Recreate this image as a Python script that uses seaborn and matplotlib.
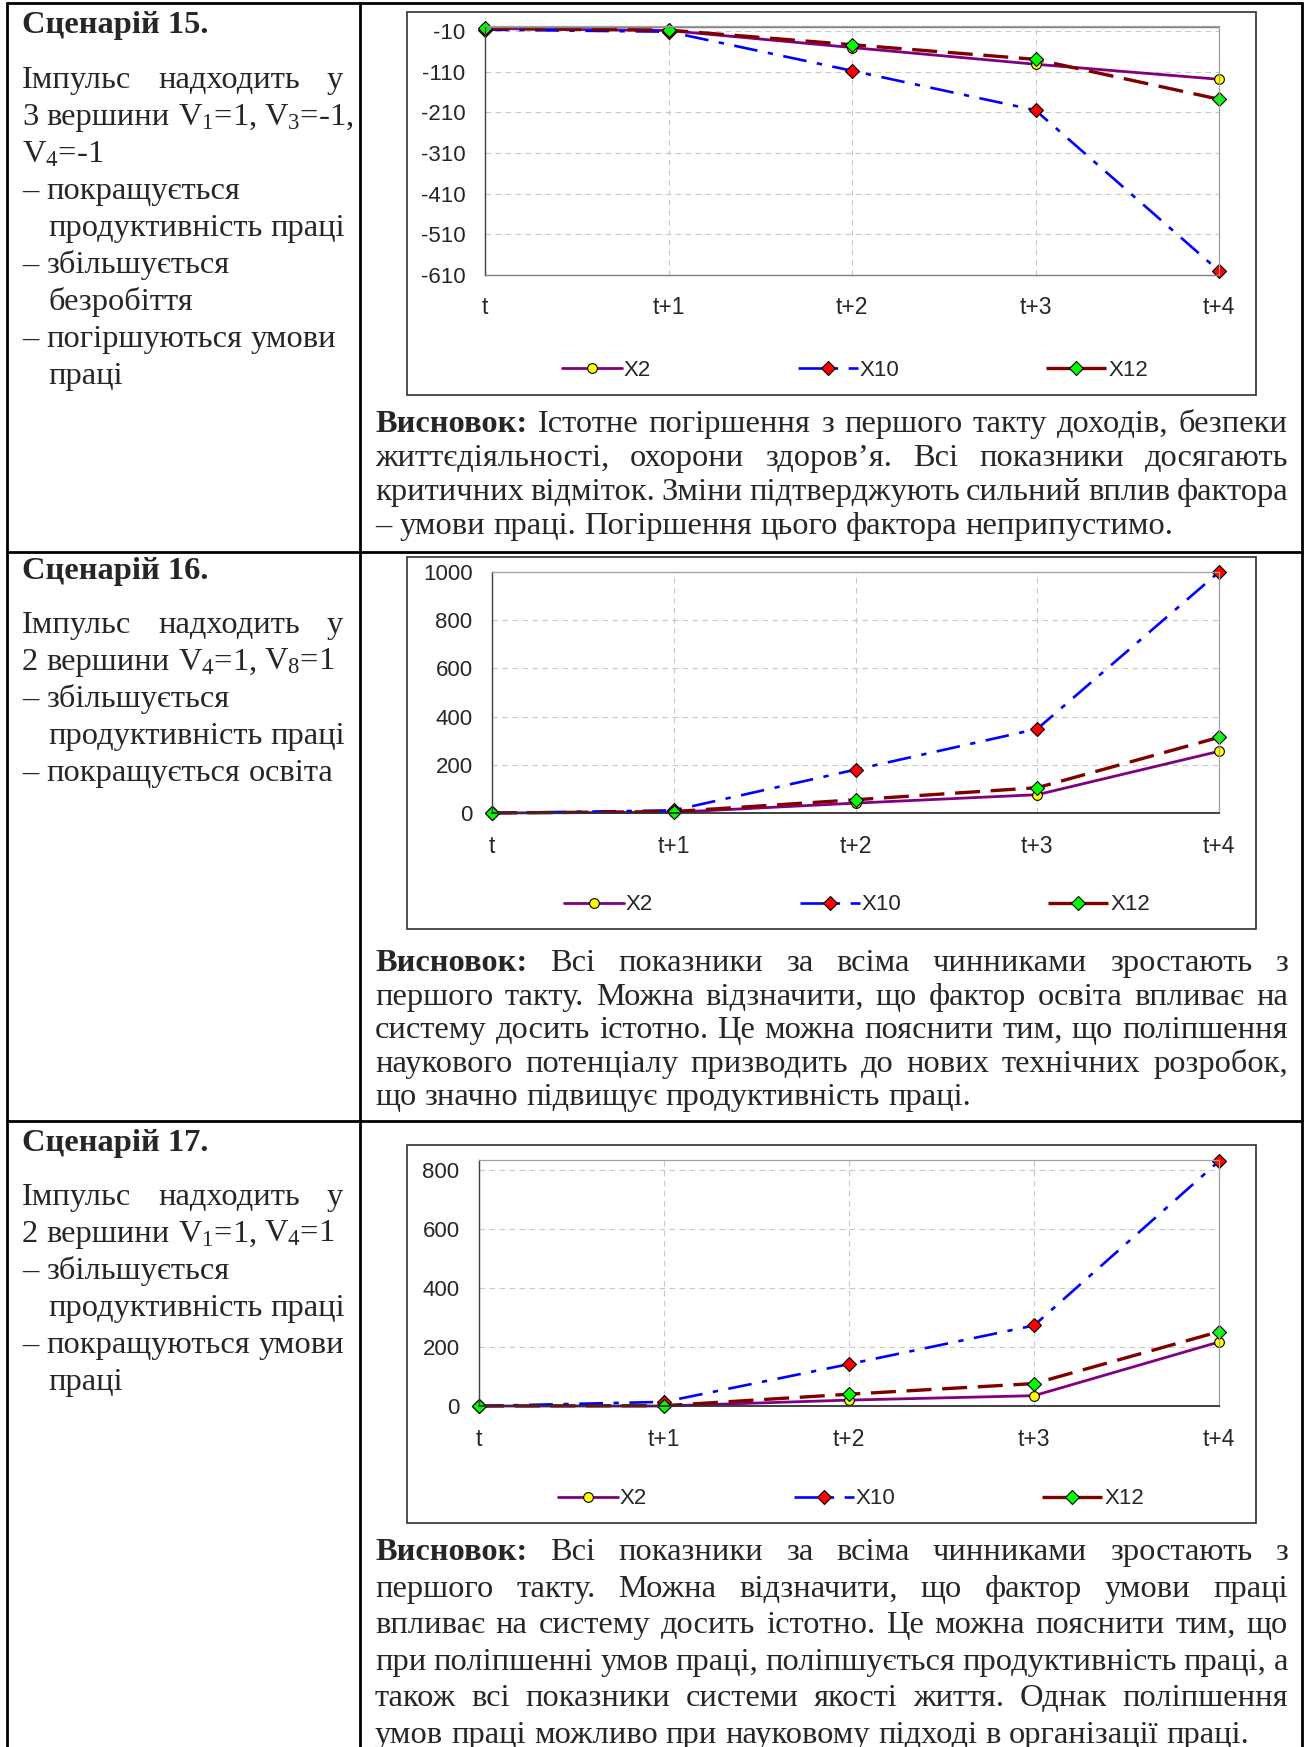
import numpy as np
import matplotlib.pyplot as plt
import seaborn as sns
from matplotlib.patches import Rectangle

sns.set_style("white")
plt.rcParams['font.family'] = ['Liberation Sans', 'DejaVu Sans']
plt.rcParams['axes.unicode_minus'] = False
plt.rcParams['mathtext.fontset'] = 'custom'
plt.rcParams['mathtext.rm'] = 'Liberation Serif'
plt.rcParams['mathtext.it'] = 'Liberation Serif:italic'
plt.rcParams['mathtext.bf'] = 'Liberation Serif:bold'

# ---- chart data ----
steps = ["t", "t+1", "t+2", "t+3", "t+4"]
series = ["X2", "X10", "X12"]

s15_x2 = [-4, -9, -51, -92, -129]
s15_x10 = [-7, -12, -108, -205, -600]
s15_x12 = [-4, -8, -44, -80, -178]
s15_yticks = [-10, -110, -210, -310, -410, -510, -610]

s16_x2 = [0, 3, 41, 76, 256]
s16_x10 = [0, 11, 180, 349, 1000]
s16_x12 = [0, 6, 55, 105, 314]
s16_yticks = [0, 200, 400, 600, 800, 1000]

s17_x2 = [0, 0, 20, 35, 217]
s17_x10 = [0, 14, 142, 273, 830]
s17_x12 = [0, 1, 40, 76, 252]
s17_yticks = [0, 200, 400, 600, 800]

# ---- text ----
row_titles = ["Сценарій 15.", "Сценарій 16.", "Сценарій 17."]

left_15 = ["Імпульс надходить у", "3 вершини V$_1$=1, V$_3$=-1,", "V$_4$=-1",
           "– покращується", "  продуктивність праці", "– збільшується",
           "  безробіття", "– погіршуються умови", "  праці"]
left_16 = ["Імпульс надходить у", "2 вершини V$_4$=1, V$_8$=1", "– збільшується",
           "  продуктивність праці", "– покращується освіта"]
left_17 = ["Імпульс надходить у", "2 вершини V$_1$=1, V$_4$=1", "– збільшується",
           "  продуктивність праці", "– покращуються умови", "  праці"]

concl_15 = ["Висновок: Істотне погіршення з першого такту доходів, безпеки",
            "життєдіяльності, охорони здоров’я. Всі показники досягають",
            "критичних відміток. Зміни підтверджують сильний вплив фактора",
            "– умови праці. Погіршення цього фактора неприпустимо."]
concl_16 = ["Висновок: Всі показники за всіма чинниками зростають з",
            "першого такту. Можна відзначити, що фактор освіта впливає на",
            "систему досить істотно. Це можна пояснити тим, що поліпшення",
            "наукового потенціалу призводить до нових технічних розробок,",
            "що значно підвищує продуктивність праці."]
concl_17 = ["Висновок: Всі показники за всіма чинниками зростають з",
            "першого такту. Можна відзначити, що фактор умови праці",
            "впливає на систему досить істотно. Це можна пояснити тим, що",
            "при поліпшенні умов праці, поліпшується продуктивність праці, а",
            "також всі показники системи якості життя. Однак поліпшення",
            "умов праці можливо при науковому підході в організації праці."]

W, H = 1305, 1747
fig = plt.figure(figsize=(W / 100, H / 100), dpi=100)
page = fig.add_axes([0, 0, 1, 1])
page.set_xlim(0, W)
page.set_ylim(H, 0)
page.axis('off')
renderer = fig.canvas.get_renderer()

SERIF = 'Liberation Serif'
FS = 23.4

# table grid
lw_tab = 2.0
page.plot([7, 1302], [3, 3], color='black', lw=lw_tab)
for x in [7, 360, 1302]:
    page.plot([x, x], [3, H], color='black', lw=lw_tab)
for y in [552, 1121]:
    page.plot([7, 1302], [y, y], color='black', lw=lw_tab)


def put_line(line, x0, x1, y, justify):
    words = line.split()
    texts = []
    for w in words:
        wt = 'bold' if w == 'Висновок:' else 'normal'
        texts.append(page.text(0, y, w, fontsize=FS, family=SERIF,
                               fontweight=wt, va='baseline', ha='left'))
    widths = [t.get_window_extent(renderer).width for t in texts]
    if justify and len(texts) > 1:
        gap = max((x1 - x0 - sum(widths)) / (len(texts) - 1), 4)
    else:
        gap = 8.1
    x = x0
    for t, w in zip(texts, widths):
        t.set_x(x)
        x += w + gap


rows = [
    dict(title_y=33, left_y=88, left_step=37, concl_y=432, concl_step=34,
         left=left_15, concl=concl_15),
    dict(title_y=579, left_y=633, left_step=37, concl_y=971, concl_step=33.6,
         left=left_16, concl=concl_16),
    dict(title_y=1151, left_y=1205, left_step=37, concl_y=1560, concl_step=36.6,
         left=left_17, concl=concl_17),
]

for title, r in zip(row_titles, rows):
    page.text(22, r['title_y'], title, fontsize=FS, family=SERIF,
              fontweight='bold', va='baseline')
    for i, line in enumerate(r['left']):
        x0 = 48 if line.startswith('  ') else 22
        put_line(line, x0, 343, r['left_y'] + i * r['left_step'], i == 0)
    n = len(r['concl'])
    for i, line in enumerate(r['concl']):
        put_line(line, 375, 1288, r['concl_y'] + i * r['concl_step'], i < n - 1)

# ---- charts ----
styles = {
    "X2": dict(color="#800080", lw=2.0, marker="o", ms=7, mfc="#FFFF00", dashes=None),
    "X10": dict(color="#0000FF", lw=1.9, marker="D", ms=7.5, mfc="#FF0000", dashes=(9, 4, 2, 4)),
    "X12": dict(color="#800000", lw=2.4, marker="D", ms=7.5, mfc="#00FF00", dashes=(7.5, 3.2)),
}


def draw_chart(box, plot, values, yticks, ylim, legend_xy, neg):
    bx0, by0, bx1, by1 = box
    page.add_patch(Rectangle((bx0, by0), bx1 - bx0, by1 - by0, fill=False,
                             ec='#303030', lw=1.2))
    l, t, r, b = plot
    ax = fig.add_axes([l / W, 1 - b / H, (r - l) / W, (b - t) / H])
    xs = np.arange(len(steps))
    handles = []
    for name, vals in zip(series, values):
        st = styles[name]
        sns.lineplot(x=xs, y=vals, ax=ax, color=st['color'], lw=st['lw'],
                     marker=st['marker'], markersize=st['ms'],
                     markerfacecolor=st['mfc'], markeredgecolor='black',
                     markeredgewidth=0.8, label=name, legend=False)
        line = ax.lines[-1]
        if st['dashes']:
            line.set_dashes(st['dashes'])
        line.set_clip_on(False)
        handles.append(line)
    ax.set_xlim(0, len(steps) - 1)
    ax.set_ylim(*ylim)
    ax.set_xticks(xs, steps)
    ax.set_yticks(yticks)
    ax.grid(True, color='#C8C8C8', ls=(0, (5, 4)), lw=0.8)
    ax.set_axisbelow(True)
    for side in ['top', 'right']:
        ax.spines[side].set_color('#A0A0A0')
        ax.spines[side].set_linewidth(0.9)
    ax.spines['left'].set_color('#404040')
    ax.spines['left'].set_linewidth(1.0)
    if neg:
        ax.spines['bottom'].set_color('#808080')
        ax.spines['bottom'].set_linewidth(1.0)
        ax.axhline(0, color='#808080', lw=1.0)
        ax.tick_params(axis='x', length=0, pad=15, labelsize=16.5)
    else:
        ax.spines['bottom'].set_color('#303030')
        ax.spines['bottom'].set_linewidth(1.3)
        ax.tick_params(axis='x', length=5, color='#808080', pad=11, labelsize=16.5)
    ax.tick_params(axis='y', length=4, width=0.8, color='#404040', pad=10, labelsize=16)
    ax.legend(handles, series, loc='center',
              bbox_to_anchor=(legend_xy[0] / W, 1 - legend_xy[1] / H),
              bbox_transform=fig.transFigure, ncol=3, frameon=False,
              handlelength=2.7, handletextpad=0.1, columnspacing=6.6,
              fontsize=16, numpoints=1)
    return ax


draw_chart((407, 12, 1256, 395), (485, 26, 1219, 275),
           [s15_x2, s15_x10, s15_x12], s15_yticks, (-610, 2), (855, 370), True)
draw_chart((407, 557, 1256, 929), (492, 572, 1219, 813),
           [s16_x2, s16_x10, s16_x12], s16_yticks, (0, 1000), (857, 905), False)
draw_chart((407, 1145, 1256, 1523), (479, 1160, 1219, 1406),
           [s17_x2, s17_x10, s17_x12], s17_yticks, (0, 834), (851, 1499), False)

fig.savefig('out.png', dpi=100)
